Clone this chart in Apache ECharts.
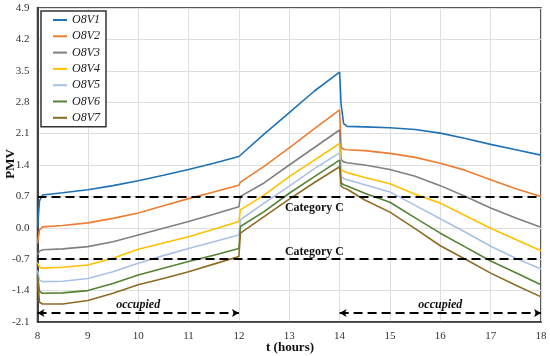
<!DOCTYPE html>
<html>
<head>
<meta charset="utf-8">
<script src="https://cdn.jsdelivr.net/npm/echarts@6/dist/echarts.min.js"></script>
<style>html,body{margin:0;padding:0;background:#fff}#c{width:550px;height:356px}</style>
</head>
<body>
<div id="c"></div>
<script>
const seriesNames = ['O8V1','O8V2','O8V3','O8V4','O8V5','O8V6','O8V7'];
const times = [8.0, 8.04, 8.1, 8.5, 9, 9.5, 10, 10.5, 11, 11.5, 12, 12.03, 12.5, 13, 13.5, 14, 14.03, 14.08, 14.15, 14.5, 15, 15.5, 16, 16.5, 17, 17.5, 18];
const O8V1 = [0.0, 0.6, 0.73, 0.78, 0.85, 0.94, 1.05, 1.17, 1.30, 1.44, 1.59, 1.62, 2.09, 2.57, 3.05, 3.47, 2.75, 2.32, 2.26, 2.25, 2.23, 2.19, 2.11, 1.99, 1.86, 1.74, 1.62];
const O8V2 = [-0.35, -0.05, 0.02, 0.05, 0.11, 0.21, 0.33, 0.49, 0.65, 0.80, 0.95, 1.02, 1.37, 1.78, 2.21, 2.63, 1.80, 1.75, 1.74, 1.72, 1.66, 1.57, 1.44, 1.28, 1.07, 0.87, 0.70];
const O8V3 = [-0.6, -0.52, -0.49, -0.47, -0.42, -0.31, -0.16, -0.01, 0.14, 0.30, 0.47, 0.70, 1.00, 1.40, 1.79, 2.18, 1.52, 1.47, 1.45, 1.40, 1.30, 1.15, 0.94, 0.70, 0.44, 0.22, 0.01];
const O8V4 = [-0.78, -0.88, -0.90, -0.88, -0.83, -0.68, -0.48, -0.34, -0.20, -0.03, 0.14, 0.40, 0.73, 1.14, 1.51, 1.88, 1.30, 1.26, 1.23, 1.12, 0.98, 0.75, 0.55, 0.27, -0.01, -0.26, -0.51];
const O8V5 = [-0.95, -1.17, -1.20, -1.19, -1.13, -0.98, -0.79, -0.62, -0.46, -0.31, -0.16, 0.18, 0.55, 0.93, 1.32, 1.67, 1.14, 1.10, 1.07, 0.96, 0.80, 0.50, 0.20, -0.10, -0.41, -0.68, -0.92];
const O8V6 = [-1.05, -1.42, -1.46, -1.45, -1.40, -1.24, -1.05, -0.90, -0.75, -0.61, -0.46, 0.03, 0.36, 0.77, 1.14, 1.51, 1.00, 0.96, 0.93, 0.77, 0.57, 0.22, -0.12, -0.43, -0.74, -1.00, -1.27];
const O8V7 = [-1.1, -1.66, -1.70, -1.70, -1.62, -1.46, -1.27, -1.13, -0.98, -0.81, -0.64, -0.12, 0.25, 0.64, 1.01, 1.36, 0.93, 0.89, 0.86, 0.62, 0.35, -0.02, -0.40, -0.70, -1.01, -1.28, -1.54];
const categoryLimits = [0.7, -0.7];
const categoryLabel = 'Category C';
const categoryLabelPos = [[13.5, 0.44], [13.5, -0.54]];
const occupiedPeriods = [[8, 12], [14, 18]];
const occupiedArrowY = -1.9;
const occupiedLabelY = -1.72;
const xTicks = {min: 8, max: 18, step: 1};
const yTicks = {min: -2.1, max: 4.9, step: 0.7};
const xTitle = 't (hours)';
const yTitle = 'PMV';

const allValues = [O8V1, O8V2, O8V3, O8V4, O8V5, O8V6, O8V7];
const colors = ['#1f72b6', '#ED7D31', '#808080', '#FFC000', '#A9C1E6', '#548235', '#8E6B23'];
const FONT = '"Liberation Serif", "DejaVu Serif", serif';

const lineSeries = seriesNames.map((n, i) => ({
  name: n,
  type: 'line',
  symbol: 'none',
  smooth: false,
  lineStyle: {width: 1.6, color: colors[i]},
  itemStyle: {color: colors[i]},
  data: times.map((t, k) => [t, allValues[i][k]]),
  z: 3
}));

const annot = {
  name: 'annot',
  type: 'line',
  data: [],
  symbol: 'none',
  silent: true,
  z: 5,
  markLine: {
    silent: true,
    symbol: 'none',
    label: {show: false},
    lineStyle: {color: '#000', type: [9, 5], width: 2},
    data: categoryLimits.map(v => ({yAxis: v}))
  },
  markPoint: {
    symbol: 'rect',
    symbolSize: 0,
    label: {show: true},
    data: [
      ...categoryLabelPos.map(p => ({coord: p, value: categoryLabel,
        label: {show: true, formatter: categoryLabel, fontFamily: FONT, fontWeight: 'bold', fontSize: 12, color: '#111'}})),
      ...occupiedPeriods.map(p => ({coord: [(p[0] + p[1]) / 2, occupiedLabelY], value: 'occupied',
        label: {show: true, formatter: 'occupied', fontFamily: FONT, fontWeight: 'bold', fontStyle: 'italic', fontSize: 12, color: '#111'}}))
    ]
  }
};

const arrows = {
  name: 'arrows',
  type: 'line',
  data: [],
  symbol: 'none',
  silent: true,
  z: 5,
  markLine: {
    silent: true,
    symbol: ['arrow', 'arrow'],
    symbolSize: [6, 7],
    label: {show: false},
    lineStyle: {color: '#000', type: [9, 5], width: 2},
    data: occupiedPeriods.map(p => [{coord: [p[0], occupiedArrowY]}, {coord: [p[1], occupiedArrowY]}])
  }
};

const fmt = v => (Math.abs(v) < 1e-9 ? '0.0' : v.toFixed(1));

const chart = echarts.init(document.getElementById('c'), null, {renderer: 'canvas'});
chart.setOption({
  animation: false,
  backgroundColor: '#fff',
  textStyle: {fontFamily: FONT},
  grid: {left: 37.5, right: 9, top: 8, bottom: 34, containLabel: false, outerBoundsMode: 'none',
    show: true, borderColor: '#222', borderWidth: 1.5, backgroundColor: 'transparent'},
  legend: {
    data: seriesNames,
    orient: 'vertical',
    left: 41, top: 11,
    itemWidth: 14, itemHeight: 14, itemGap: 4.3,
    padding: [3, 6, 3, 12],
    backgroundColor: '#fff',
    borderColor: '#333', borderWidth: 1.5,
    textStyle: {fontFamily: FONT, fontStyle: 'italic', fontSize: 12, color: '#222'},
    icon: 'path://M0,6 L14,6 L14,8 L0,8 Z'
  },
  graphic: [
    {type: 'text', x: 290, y: 348, z: 10,
      style: {text: xTitle, font: 'bold 13px ' + FONT, fill: '#111', align: 'center', verticalAlign: 'middle'}},
    {type: 'text', x: 11, y: 164, rotation: Math.PI / 2, z: 10,
      style: {text: yTitle, font: 'bold 13px ' + FONT, fill: '#111', align: 'center', verticalAlign: 'middle'}}
  ],
  xAxis: {
    type: 'value', min: xTicks.min, max: xTicks.max, interval: xTicks.step,
    axisLine: {onZero: false, lineStyle: {color: '#333', width: 1.5}},
    axisTick: {show: false},
    axisLabel: {fontFamily: FONT, fontSize: 11, color: '#333', margin: 9},
    splitLine: {show: true, lineStyle: {color: '#dedede', width: 1}}
  },
  yAxis: {
    type: 'value', min: yTicks.min, max: yTicks.max, interval: yTicks.step,
    axisLine: {show: true, onZero: false, lineStyle: {color: '#111', width: 1.5}},
    axisTick: {show: false},
    axisLabel: {fontFamily: FONT, fontSize: 11, color: '#333', margin: 8, formatter: fmt},
    splitLine: {show: true, lineStyle: {color: '#dedede', width: 1}}
  },
  series: [...lineSeries, annot, arrows]
});
</script>
</body>
</html>
